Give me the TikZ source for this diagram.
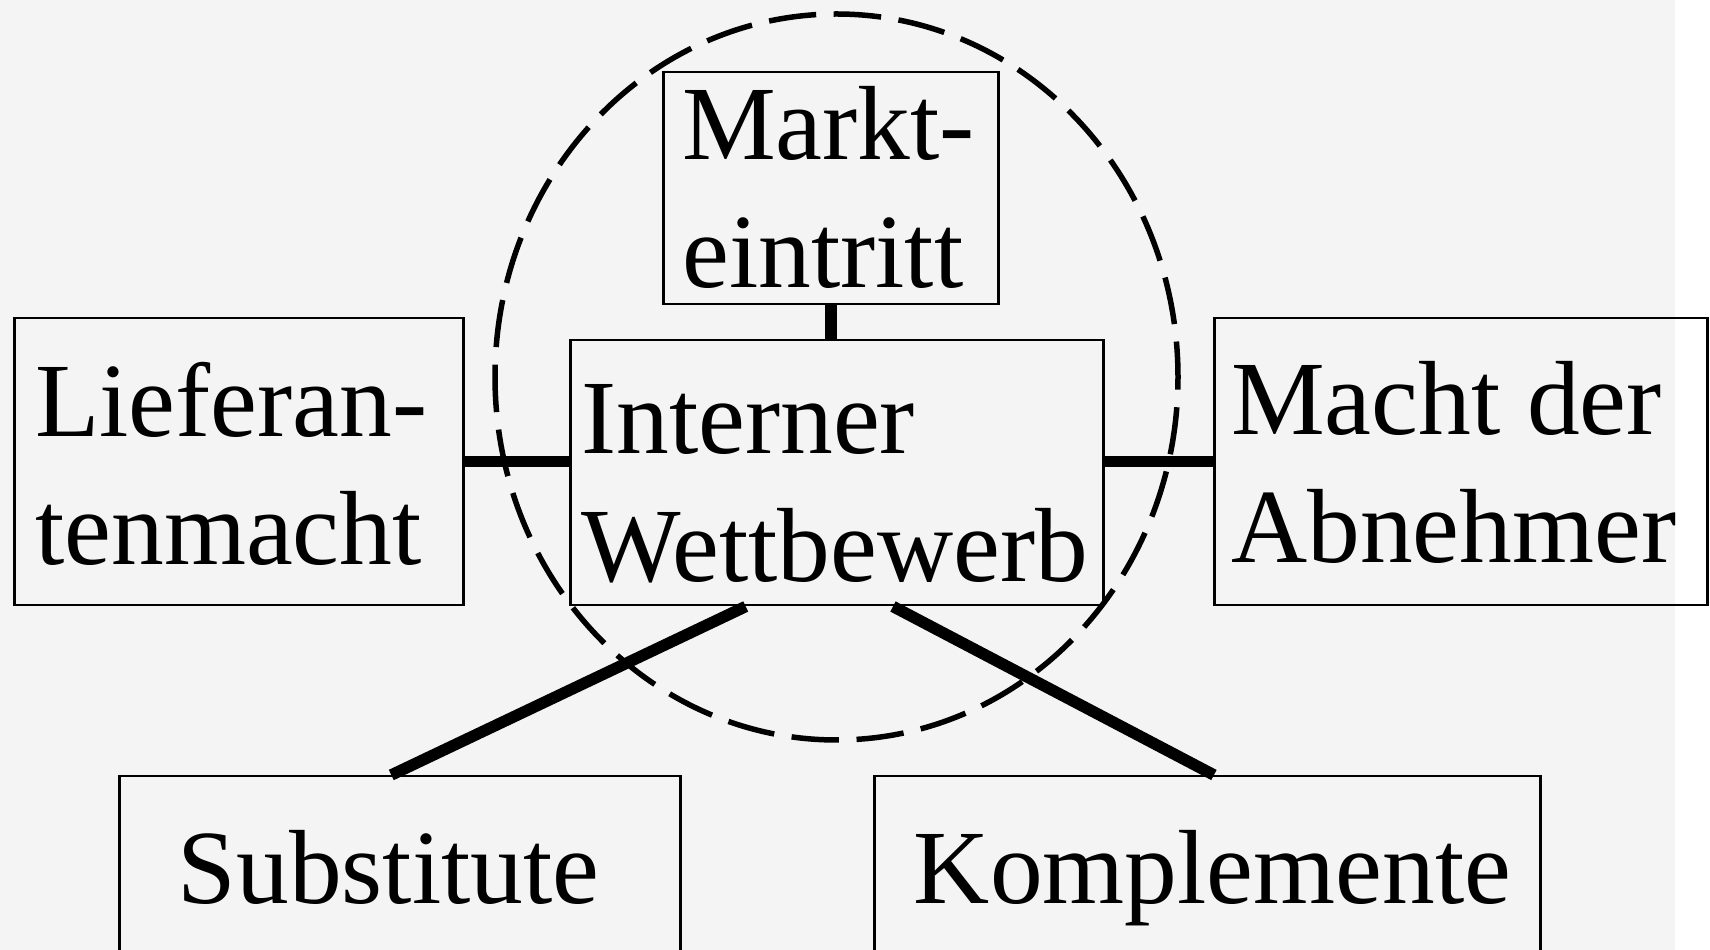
\documentclass[tikz,border=0pt]{standalone}
\usepackage{fontspec}
\setmainfont{Liberation Serif}
\usetikzlibrary{calc}
\definecolor{paper}{HTML}{F4F4F4}

\begin{document}
\begin{tikzpicture}[
  x=0.1mm, y=-0.1mm,
  font=\fontsize{30pt}{36.4pt}\selectfont,
  forcebox/.style={draw, line width=0.25mm, anchor=north west, align=flush left, inner ysep=0pt},
  bond/.style={line width=1.15mm},
  rivalry/.style={line width=0.55mm, dash pattern=on 4.75mm off 1.76mm, dash phase=1.2mm}
]
  % Blatt und Hintergrund
  \clip (0,0) rectangle (1710,950);
  \fill[white] (0,0) rectangle (1710,950);
  \fill[paper] (0,0) rectangle (1675,950);

  % Kraefte
  \node[forcebox, inner xsep=2.1mm, text width=40.7mm, text height=11.8mm, text depth=16.9mm] (liefer) at (13,317) {Lieferan-\\tenmacht};
  \node[forcebox, inner xsep=1.9mm, text width=29.7mm, text height=8.7mm, text depth=14.5mm] (markt) at (662,71) {Markt-\\eintritt};
  \node[forcebox, inner xsep=1.1mm, text width=51.1mm, text height=11.3mm, text depth=15.2mm] (intern) at (569,339) {Interner\\Wettbewerb};
  \node[forcebox, inner xsep=1.7mm, text width=45.9mm, text height=11.6mm, text depth=17.1mm] (abnehm) at (1213,317) {Macht der\\Abnehmer};
  \node[forcebox, inner xsep=5.85mm, text width=44.4mm, text height=12.7mm, text depth=6.3mm] (subst) at (118,775) {Substitute};
  \node[forcebox, align=flush right, inner xsep=2.9mm, text width=60.8mm, text height=12.7mm, text depth=6.3mm] (komp) at (873,775) {Komplemente};

  % Branche
  \draw[rivalry] (836.5,377) ellipse [x radius=34.15mm, y radius=36.3mm];

  % Verbindungen
  \draw[bond] (markt.south) -- (markt.south |- intern.north);
  \draw[bond] (liefer.east) -- (liefer.east -| intern.west);
  \draw[bond] (abnehm.west -| intern.east) -- (abnehm.west);
  \foreach \f/\b/\t in {0.33/subst/0.485, 0.605/komp/0.51} {
    \draw[bond] ($(intern.south west)!\f!(intern.south east)$) -- ($(\b.north west)!\t!(\b.north east)$);
  }
\end{tikzpicture}
\end{document}
